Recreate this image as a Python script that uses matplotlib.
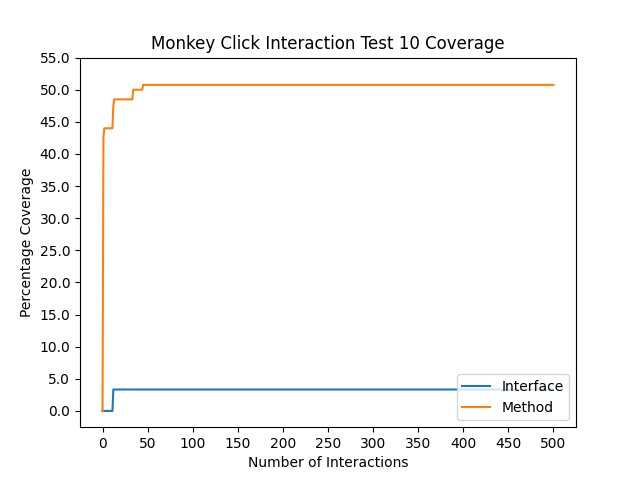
import matplotlib
matplotlib.use("Agg")
import matplotlib.pyplot as plt
import numpy as np

# interaction counts where coverage changes, and coverage at those points
iface_x = [0, 11, 12, 500]
iface_y = [0.0, 0.0, 3.33, 3.33]

method_x = [0, 1, 2, 11, 12, 13, 33, 34, 44, 45, 500]
method_y = [0.0, 42.7, 44.0, 44.0, 47.6, 48.5, 48.5, 50.0, 50.0, 50.75, 50.75]

plt.figure(figsize=(6.4, 4.8))
plt.plot(iface_x, iface_y, label='Interface')
plt.plot(method_x, method_y, label='Method')

plt.title("Monkey Click Interaction Test 10 Coverage")
plt.xlabel("Number of Interactions")
plt.ylabel("Percentage Coverage")
plt.xticks(np.arange(0, 501, 50))
yt = np.arange(0, 55.1, 5)
plt.yticks(yt, ["%.1f" % v for v in yt])
plt.legend(loc='lower right')

plt.savefig("out.png", dpi=100)
